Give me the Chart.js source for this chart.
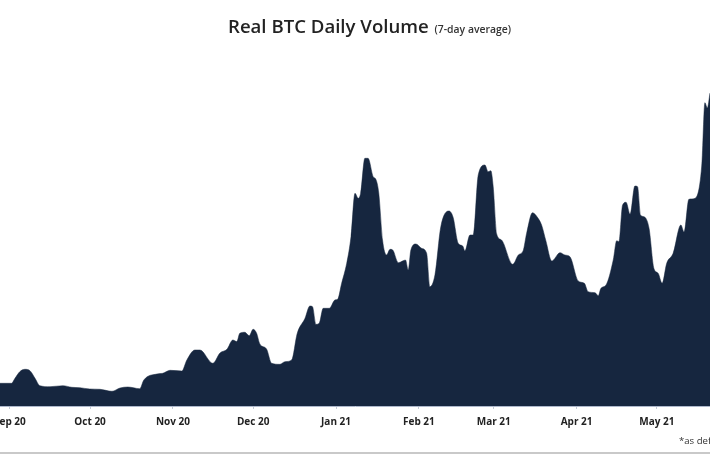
<!DOCTYPE html>
<html>
<head>
<meta charset="utf-8">
<style>
  html, body { margin: 0; padding: 0; background: #fff; }
  body { width: 710px; height: 458px; overflow: hidden; position: relative; font-family: "Open Sans", sans-serif; }
  #wrap { position: absolute; left: 0; top: 0; width: 710px; height: 458px; overflow: hidden; filter: blur(0.55px); }
  #chart { position: absolute; left: -40px; top: 0; }
  #title { position: absolute; left: 228px; top: 13px; font-size: 18.6px; font-weight: 600; color: #222; white-space: nowrap; line-height: 26px; }
  #title small { font-size: 10.4px; font-weight: 600; color: #333; margin-left: 1px; }
  #note { position: absolute; left: 679px; top: 434px; font-size: 9.6px; color: #333; white-space: nowrap; }
  #rule { position: absolute; left: 0; top: 452px; width: 710px; height: 2px; background: #c9c9c9; }
</style>
</head>
<body>
<div id="wrap">
  <canvas id="chart" width="790" height="458"></canvas>
  <div id="title">Real BTC Daily Volume <small>(7-day average)</small></div>
  <div id="note">*as def</div>
  <div id="rule"></div>
</div>
<script src="https://cdn.jsdelivr.net/npm/chart.js@4"></script>
<script>
// days counted from 1 Sep 2020
const days = [-3.7, 0.6, 1.9, 3.7, 5.6, 7.5, 9.4, 11.2, 15, 19.8, 23.2, 26.2, 29.9, 33.7, 38.2, 41.2, 44.1, 48.6, 50.1, 55, 57.2, 59.9, 64.3, 66.2, 69.2, 71.1, 75.9, 78.6, 81.2, 83.4, 84.9,
  86, 87.9, 89.5, 91, 92.3, 93.5, 96, 97.9, 101, 102.9, 105.4, 107.5, 110.4, 112.2, 113.2, 114.5, 115.7, 117.2, 119.5, 121.6, 122.6, 124.1, 126, 127.6, 129.1, 130.3, 131.2, 132.8, 134, 135.9, 136.9, 138, 139.4, 140.9, 142.2, 143.2, 145.3, 148, 149, 150, 151.9, 154, 155.9, 157.1, 159, 161.2, 164.2, 165.8, 167.7, 169.4, 170.2, 172.1, 173.3,
  175.2, 177.7, 178.9, 179.9, 180.8, 182.1, 183.9, 188.1, 190.2, 192, 193.3, 195.5, 197.6, 198.9, 200.5, 202.7, 205.8, 207.6, 209.5, 212.6, 214.9, 216.3, 218.9, 220.1, 221.1, 223, 225.7, 227, 227.8, 229.2, 230.5, 232, 233.8, 234.8, 235.9, 237.2, 239.1, 240.9, 242.5, 244, 245.7, 248.1, 251, 252.2, 254, 255.9, 258.8, 260, 260.9, 261.9];

const volume = [22.7, 22.7, 27.7, 34.3, 36.7, 35.3, 27.7, 20.3, 19.3, 20.3, 18.7, 18.3, 17, 16.7, 14.7, 18, 19, 17.3, 26, 32, 32.7, 35.7, 35, 46, 56, 56, 42.7, 53, 56.7, 66, 64.5,
  72.7, 73.7, 70.3, 76.7, 72.7, 62, 57, 42.7, 41.7, 44.3, 46, 72.7, 87.7, 100, 99.3, 81.7, 82.7, 97.7, 97.7, 106, 106.7, 122.7, 142.7, 169.3, 212.7, 207.7, 212.7, 247.7, 247.7, 229.3, 226.7, 212.7, 166, 151, 156.7, 156, 143.3, 146, 136, 156, 162, 157.7, 152.7, 119.3, 131, 179.3, 195, 188.7, 162.7, 160, 155, 171, 171,
  231, 241, 234.3, 235.3, 219.3, 172, 166, 141.7, 151, 155.3, 172.7, 193.3, 187.7, 181, 165.3, 145, 153.3, 151, 149.3, 125, 122.7, 114.3, 113.3, 110.3, 117.7, 121, 146, 165.3, 164.3, 201, 203.7, 191.7, 220, 219.3, 191, 189.3, 177.7, 137.7, 132.7, 122.7, 142.7, 152.7, 181, 174, 206.7, 207.3, 240, 303.3, 298, 313];

const monthDays = [0, 30, 61, 91, 122, 153, 181, 212, 242];
const monthLabels = ["Sep 20", "Oct 20", "Nov 20", "Dec 20", "Jan 21", "Feb 21", "Mar 21", "Apr 21", "May 21"];

new Chart(document.getElementById("chart"), {
  type: "line",
  data: {
    datasets: [{
      data: days.map((d, i) => ({ x: d, y: volume[i] })),
      borderColor: "#16263f",
      backgroundColor: "#16263f",
      borderWidth: 0.5,
      pointRadius: 0,
      cubicInterpolationMode: "monotone",
      fill: "origin"
    }]
  },
  options: {
    responsive: false,
    animation: false,
    layout: { padding: { left: 40, right: 40 } },
    plugins: { legend: { display: false }, tooltip: { enabled: false } },
    scales: {
      x: {
        type: "linear",
        min: -3.7,
        max: 261.9,
        afterBuildTicks: (scale) => {
          scale.ticks = monthDays.map((d) => ({ value: d }));
        },
        afterFit: (scale) => {
          scale.height = 52;
        },
        grid: { drawOnChartArea: false, tickLength: 3, color: "#c5cbd6" },
        border: { color: "#aeb8cc", width: 1 },
        ticks: {
          autoSkip: false,
          maxRotation: 0,
          padding: 7,
          color: "#222",
          font: { family: "Open Sans", size: 10, weight: "700" },
          callback: (value) => monthLabels[monthDays.indexOf(value)]
        }
      },
      y: {
        display: false,
        min: 0,
        max: 406
      }
    }
  }
});
</script>
</body>
</html>
